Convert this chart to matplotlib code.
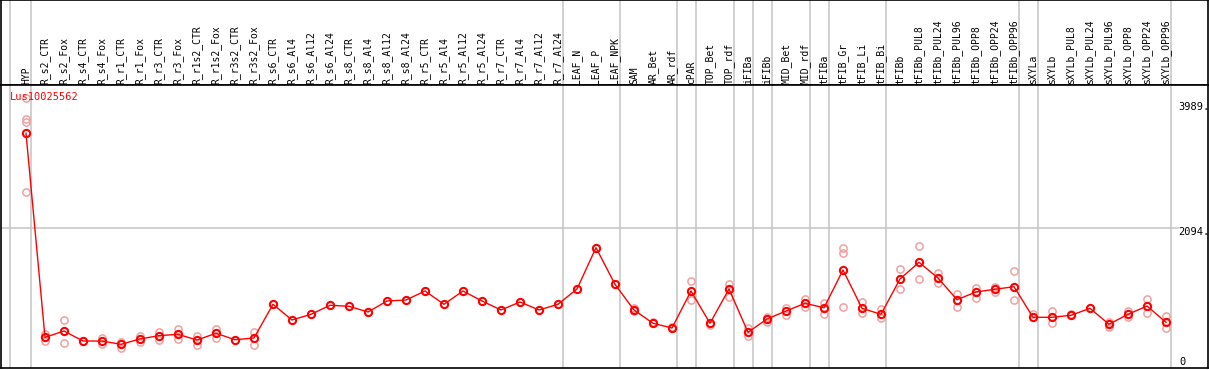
import numpy as np
import matplotlib
matplotlib.use("Agg")
import matplotlib.pyplot as plt

# column labels (samples)
labels = ["HYP", "R_s2_CTR", "R_s2_Fox", "R_s4_CTR", "R_s4_Fox", "R_r1_CTR", "R_r1_Fox",
          "R_r3_CTR", "R_r3_Fox", "R_r1s2_CTR", "R_r1s2_Fox", "R_r3s2_CTR", "R_r3s2_Fox",
          "R_s6_CTR", "R_s6_Al4", "R_s6_Al12", "R_s6_Al24", "R_s8_CTR", "R_s8_Al4",
          "R_s8_Al12", "R_s8_Al24", "R_r5_CTR", "R_r5_Al4", "R_r5_Al12", "R_r5_Al24",
          "R_r7_CTR", "R_r7_Al4", "R_r7_Al12", "R_r7_Al24", "LEAF_N", "LEAF_P", "LEAF_NPK",
          "SAM", "AR_Bet", "AR_rdf", "cPAR", "TOP_Bet", "TOP_rdf", "iFIBa", "iFIBb",
          "MID_Bet", "MID_rdf", "tFIBa", "tFIB_Gr", "tFIB_Li", "tFIB_Bi", "tFIBb",
          "tFIBb_PUL8", "tFIBb_PUL24", "tFIBb_PUL96", "tFIBb_OPP8", "tFIBb_OPP24",
          "tFIBb_OPP96", "sXYLa", "sXYLb", "sXYLb_PUL8", "sXYLb_PUL24", "sXYLb_PUL96",
          "sXYLb_OPP8", "sXYLb_OPP24", "sXYLb_OPP96"]

# mean expression per sample
mean_vals = [3531, 435, 531, 379, 379, 329, 410, 460, 481, 394, 496, 399, 425,
             936, 698, 784, 921, 906, 819, 986, 1001, 1138, 936, 1138, 986,
             850, 971, 850, 936, 1168, 1795, 1239,
             850, 648, 576, 1138, 648, 1168, 511, 713, 834, 951, 884,
             1456, 875, 784, 1320, 1573, 1335, 1006, 1123, 1164, 1203,
             739, 739, 769, 875, 633, 784, 910, 663]

# replicate values (index, value)
rep_idx = [0, 0, 0, 0, 1, 1, 2, 2, 4, 4, 5, 5, 6, 6, 7, 7, 8, 8, 9, 9, 10, 10, 12, 12,
           32, 32, 33, 34, 35, 35, 36, 37, 37, 38, 38, 39, 39, 40, 40, 41, 41, 42, 42,
           43, 43, 43, 44, 44, 45, 45, 46, 46, 47, 47, 48, 48, 49, 49, 50, 50, 51, 51,
           52, 52, 53, 54, 54, 55, 57, 57, 58, 58, 59, 59, 60, 60]
rep_vals = [4061, 3743, 3697, 2635, 481, 379, 693, 344, 420, 334, 360, 278, 451, 360,
            520, 394, 557, 405, 455, 314, 566, 425, 516, 319,
            875, 834, 660, 585, 1285, 1001, 617, 1239, 1051, 572, 455, 748, 672, 884, 774,
            1012, 890, 956, 784,
            1786, 1719, 895, 971, 809, 865, 733, 1467, 1164, 1820, 1320, 1415, 1255,
            1088, 900, 1188, 1027, 1198, 1130,
            1441, 1001, 784, 834, 657, 784, 667, 592, 834, 739, 1016, 799, 754, 581]

# vertical separators (in column units)
sep_x = [-0.84, 0.24, 28.24, 31.24, 34.24, 35.24, 37.24, 38.24, 39.24, 41.24, 42.24,
         45.24, 52.24, 53.24, 60.24]

W, H = 1209, 370
fig = plt.figure(figsize=(W / 100, H / 100), dpi=100)
fig.patch.set_facecolor("white")

# pixel -> data helpers
px0, pstep = 26.0, 19.0
xlim = ((1 - px0) / pstep, (1208 - px0) / pstep)
vscale = 15.17
ylim = ((366 - 368) * vscale, (366 - 85) * vscale)

hax = fig.add_axes([1 / W, (H - 85) / H, 1207 / W, 85 / H])
ax = fig.add_axes([1 / W, (H - 368) / H, 1207 / W, 283 / H])

font = "DejaVu Sans Mono"
grid_c = "#c8c8c8"

# header with rotated labels
hax.set_xlim(xlim)
hax.set_ylim(85, 0)
for i, lab in enumerate(labels):
    hax.text(i, 83.5, lab, rotation=90, ha="center", va="bottom",
             fontsize=7, family=font, color="black")
for xs in sep_x:
    hax.axvline(xs, color=grid_c, lw=1.2, zorder=0)
hax.set_xticks([])
hax.set_yticks([])
for s in hax.spines.values():
    s.set_linewidth(1.2)
    s.set_color("black")

# plot area
ax.set_xlim(xlim)
ax.set_ylim(ylim)
for xs in sep_x:
    ax.axvline(xs, color=grid_c, lw=1.2, zorder=0)
x_grid_end = (1178 - px0) / pstep
ax.plot([xlim[0], x_grid_end], [2094, 2094], color=grid_c, lw=1.2, zorder=0)

xs_all = np.arange(len(labels))
ax.plot(rep_idx, rep_vals, linestyle="none", marker="o", markersize=5.2,
        markerfacecolor="none", markeredgecolor="#f0a0a0", markeredgewidth=1.1, zorder=2)
ax.plot(xs_all, mean_vals, color="red", lw=1.0, marker="o", markersize=5.2,
        markerfacecolor="none", markeredgecolor="red", markeredgewidth=1.5, zorder=3)

ax.text((10 - px0) / pstep, (366 - 97) * vscale, "Lus10025562", color="red",
        fontsize=7.5, family=font, ha="left", va="center")
xr = (1178 - px0) / pstep
ax.text(xr, (366 - 107) * vscale, "3989.", fontsize=7.5, family=font, ha="left", va="center")
ax.text(xr, (366 - 232) * vscale, "2094.", fontsize=7.5, family=font, ha="left", va="center")
ax.text(xr + 0.05, (366 - 362) * vscale, "0", fontsize=7.5, family=font, ha="left", va="center")

ax.set_xticks([])
ax.set_yticks([])
for s in ax.spines.values():
    s.set_linewidth(1.2)
    s.set_color("black")

fig.savefig("out.png", dpi=100)
